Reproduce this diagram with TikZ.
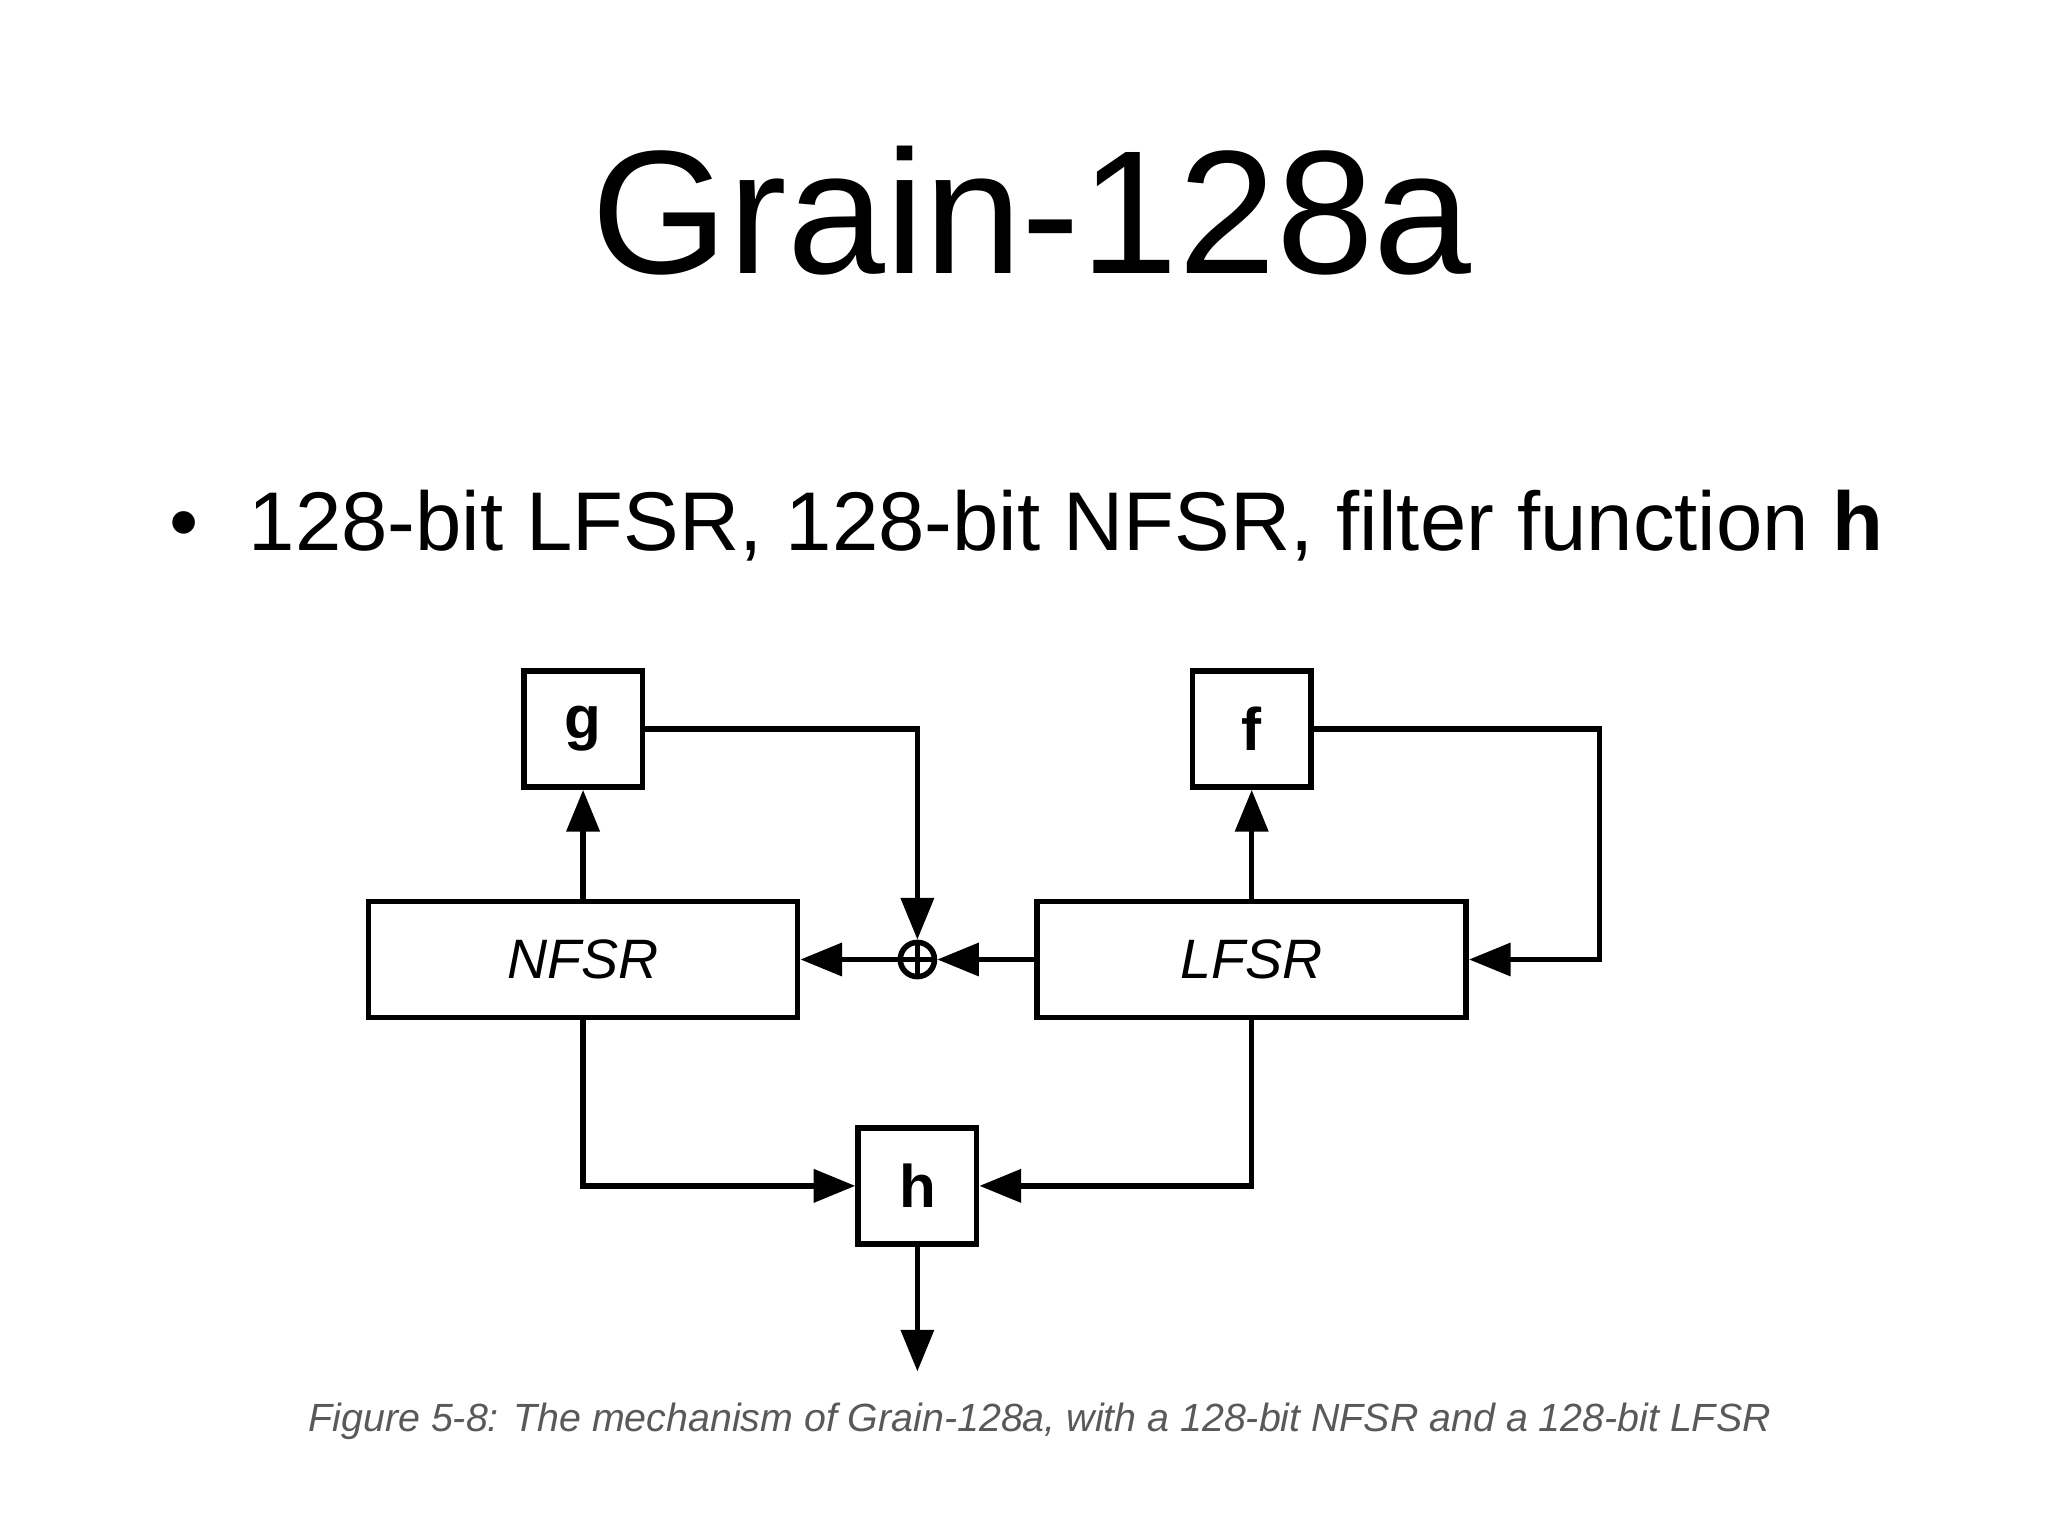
\documentclass[tikz,border=0pt]{standalone}
\usepackage{fontspec}
\setmainfont{Liberation Sans}
\usetikzlibrary{arrows.meta,positioning}

\begin{document}
\begin{tikzpicture}[x=0.01cm,y=-0.01cm,>={Triangle[length=9pt,width=7pt]},
                    line width=1.2pt]

  \tikzstyle{box}=[draw,inner sep=0pt,font=\bfseries\fontsize{13}{15}\selectfont]

  \useasboundingbox (0,0) rectangle (1556,1167);

  \node[font=\fontsize{38}{44}\selectfont] (title) at (784,160) {Grain-128a};
  \node[font=\fontsize{18}{22}\selectfont,anchor=base west] (item) at (115,418)
    {\textbullet\hspace{0.6em}128-bit LFSR, 128-bit NFSR, filter function \textbf{h}};

  \node[box,minimum width=90*0.01cm,minimum height=88*0.01cm] (g) at (443,554) {g};
  \node[box,minimum width=90*0.01cm,minimum height=88*0.01cm] (f) at (951,554) {f};
  \node[box,minimum width=326*0.01cm,minimum height=88*0.01cm,font=\itshape\fontsize{12}{14}\selectfont] (NFSR) at (443,729) {NFSR};
  \node[box,minimum width=326*0.01cm,minimum height=88*0.01cm,font=\itshape\fontsize{12}{14}\selectfont] (LFSR) at (951,729) {LFSR};
  \node[circle,draw,minimum size=26*0.01cm,inner sep=0pt] (xor) at (697,729) {};
  \node[box,minimum width=90*0.01cm,minimum height=88*0.01cm] (h) at (697,901) {h};
  \coordinate (out) at (697,1042);

  \draw (xor.north) -- (xor.south) (xor.west) -- (xor.east);

  \draw[->] (NFSR) -- (g);
  \draw[->] (LFSR) -- (f);
  \draw[->] (g.east) -| (xor.north);
  \draw[->] (f.east) -- ++(217,0) |- (LFSR.east);
  \draw[->] (LFSR) -- (xor);
  \draw[->] (xor) -- (NFSR);
  \draw[->] (NFSR.south) |- (h.west);
  \draw[->] (LFSR.south) |- (h.east);
  \draw[->] (h) -- (out);

  \node[text=black!65,font=\itshape\fontsize{8.5}{10}\selectfont] (caption) at (790,1080)
    {Figure 5-8: The mechanism of Grain-128a, with a 128-bit NFSR and a 128-bit LFSR};
\end{tikzpicture}
\end{document}
